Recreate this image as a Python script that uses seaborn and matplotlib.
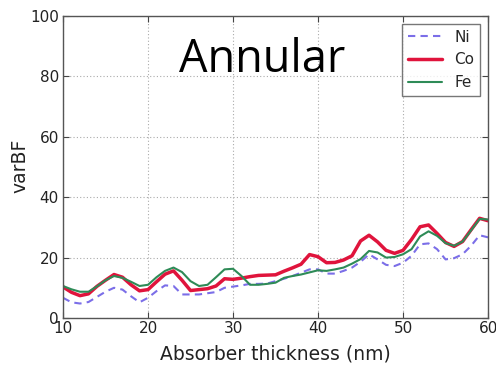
import numpy as np
import pandas as pd
import matplotlib
matplotlib.use("Agg")
import matplotlib.pyplot as plt
import seaborn as sns

thickness = list(range(10, 61))
ni = [6.7, 5.2, 4.8, 5.3, 7.0, 8.7, 10.0, 9.4, 7.2, 5.2, 6.7, 8.9, 10.8, 10.6, 7.8, 7.8, 7.8, 8.2, 8.6, 10.0,
      10.4, 10.8, 11.3, 11.3, 11.4, 12.2, 13.0, 13.9, 15.0, 16.1, 16.1, 14.7, 14.7, 15.6, 16.7, 18.6, 21.1, 19.4,
      17.6, 17.2, 18.3, 20.6, 24.4, 24.7, 22.8, 19.4, 19.8, 21.1, 23.9, 27.4, 26.7]
co = [10.3, 8.5, 7.4, 8.0, 10.5, 12.5, 14.4, 13.5, 11.0, 9.0, 9.4, 12.0, 14.5, 15.6, 12.5, 9.1, 9.4, 9.7, 10.6, 13.0,
      12.8, 13.2, 13.7, 14.1, 14.2, 14.3, 15.5, 16.6, 17.8, 21.0, 20.3, 18.3, 18.4, 19.2, 20.6, 25.5, 27.4, 25.2,
      22.4, 21.4, 22.4, 26.0, 30.2, 30.8, 28.0, 25.0, 23.7, 25.3, 29.2, 33.0, 32.2]
fe = [10.6, 9.5, 8.7, 8.7, 10.5, 12.5, 13.9, 13.3, 12.0, 10.6, 11.0, 13.5, 15.6, 16.7, 15.2, 12.2, 10.6, 11.0, 13.5, 16.1,
      16.3, 13.9, 11.0, 11.0, 11.3, 11.7, 13.3, 13.9, 14.4, 15.1, 15.8, 15.6, 16.1, 16.7, 18.0, 19.5, 22.2, 21.7,
      20.0, 20.2, 21.1, 22.8, 27.0, 28.7, 27.2, 24.8, 23.9, 25.3, 29.0, 32.8, 32.6]

df = pd.concat([
    pd.DataFrame({"x": thickness, "y": ni, "s": "Ni"}),
    pd.DataFrame({"x": thickness, "y": co, "s": "Co"}),
    pd.DataFrame({"x": thickness, "y": fe, "s": "Fe"}),
])

sns.set_style("white")
plt.rcParams['font.family'] = ['DejaVu Sans']

fig = plt.figure(figsize=(4.96, 3.70), dpi=100)
ax = fig.add_axes([0.127, 0.1405, 0.857, 0.8165])

palette = {"Ni": "#7b6ee8", "Co": "#e0143c", "Fe": "#2e8b57"}
sns.lineplot(data=df[df.s == "Ni"], x="x", y="y", color=palette["Ni"], lw=1.5, ax=ax,
             label="Ni", linestyle=(0, (3.5, 2.5)))
sns.lineplot(data=df[df.s == "Co"], x="x", y="y", color=palette["Co"], lw=2.5, ax=ax, label="Co")
sns.lineplot(data=df[df.s == "Fe"], x="x", y="y", color=palette["Fe"], lw=1.5, ax=ax, label="Fe")

ax.set_xlim(10, 60)
ax.set_ylim(0, 100)
ax.set_xticks([10, 20, 30, 40, 50, 60])
ax.set_yticks([0, 20, 40, 60, 80, 100])
ax.grid(True, linestyle=(0, (1, 2)), color="#aaaaaa", lw=0.8)
ax.tick_params(direction="in", length=4, color="#444444", labelsize=11, labelcolor="#222222",
               top=True, right=True, bottom=True, left=True)
ax.tick_params(axis="x", pad=2)
ax.tick_params(axis="y", pad=3)
for sp in ax.spines.values():
    sp.set_color("#555555")
    sp.set_linewidth(1.0)
ax.set_xlabel("Absorber thickness (nm)", fontsize=13.5, color="#222222", labelpad=6)
ax.set_ylabel("varBF", fontsize=13.5, color="#222222")
ax.yaxis.set_label_coords(-0.078, 0.503)

leg = ax.legend(loc="upper right", fontsize=11, frameon=True, fancybox=False, handlelength=2.2,
                borderpad=0.4, labelspacing=0.5)
leg.get_frame().set_edgecolor("#555555")
leg.get_frame().set_linewidth(1.0)

ax.text(0.468, 0.853, "Annular", transform=ax.transAxes, ha="center", va="center",
        fontsize=32.5, family="Open Sans", color="black")

fig.savefig("out.png", dpi=100)
